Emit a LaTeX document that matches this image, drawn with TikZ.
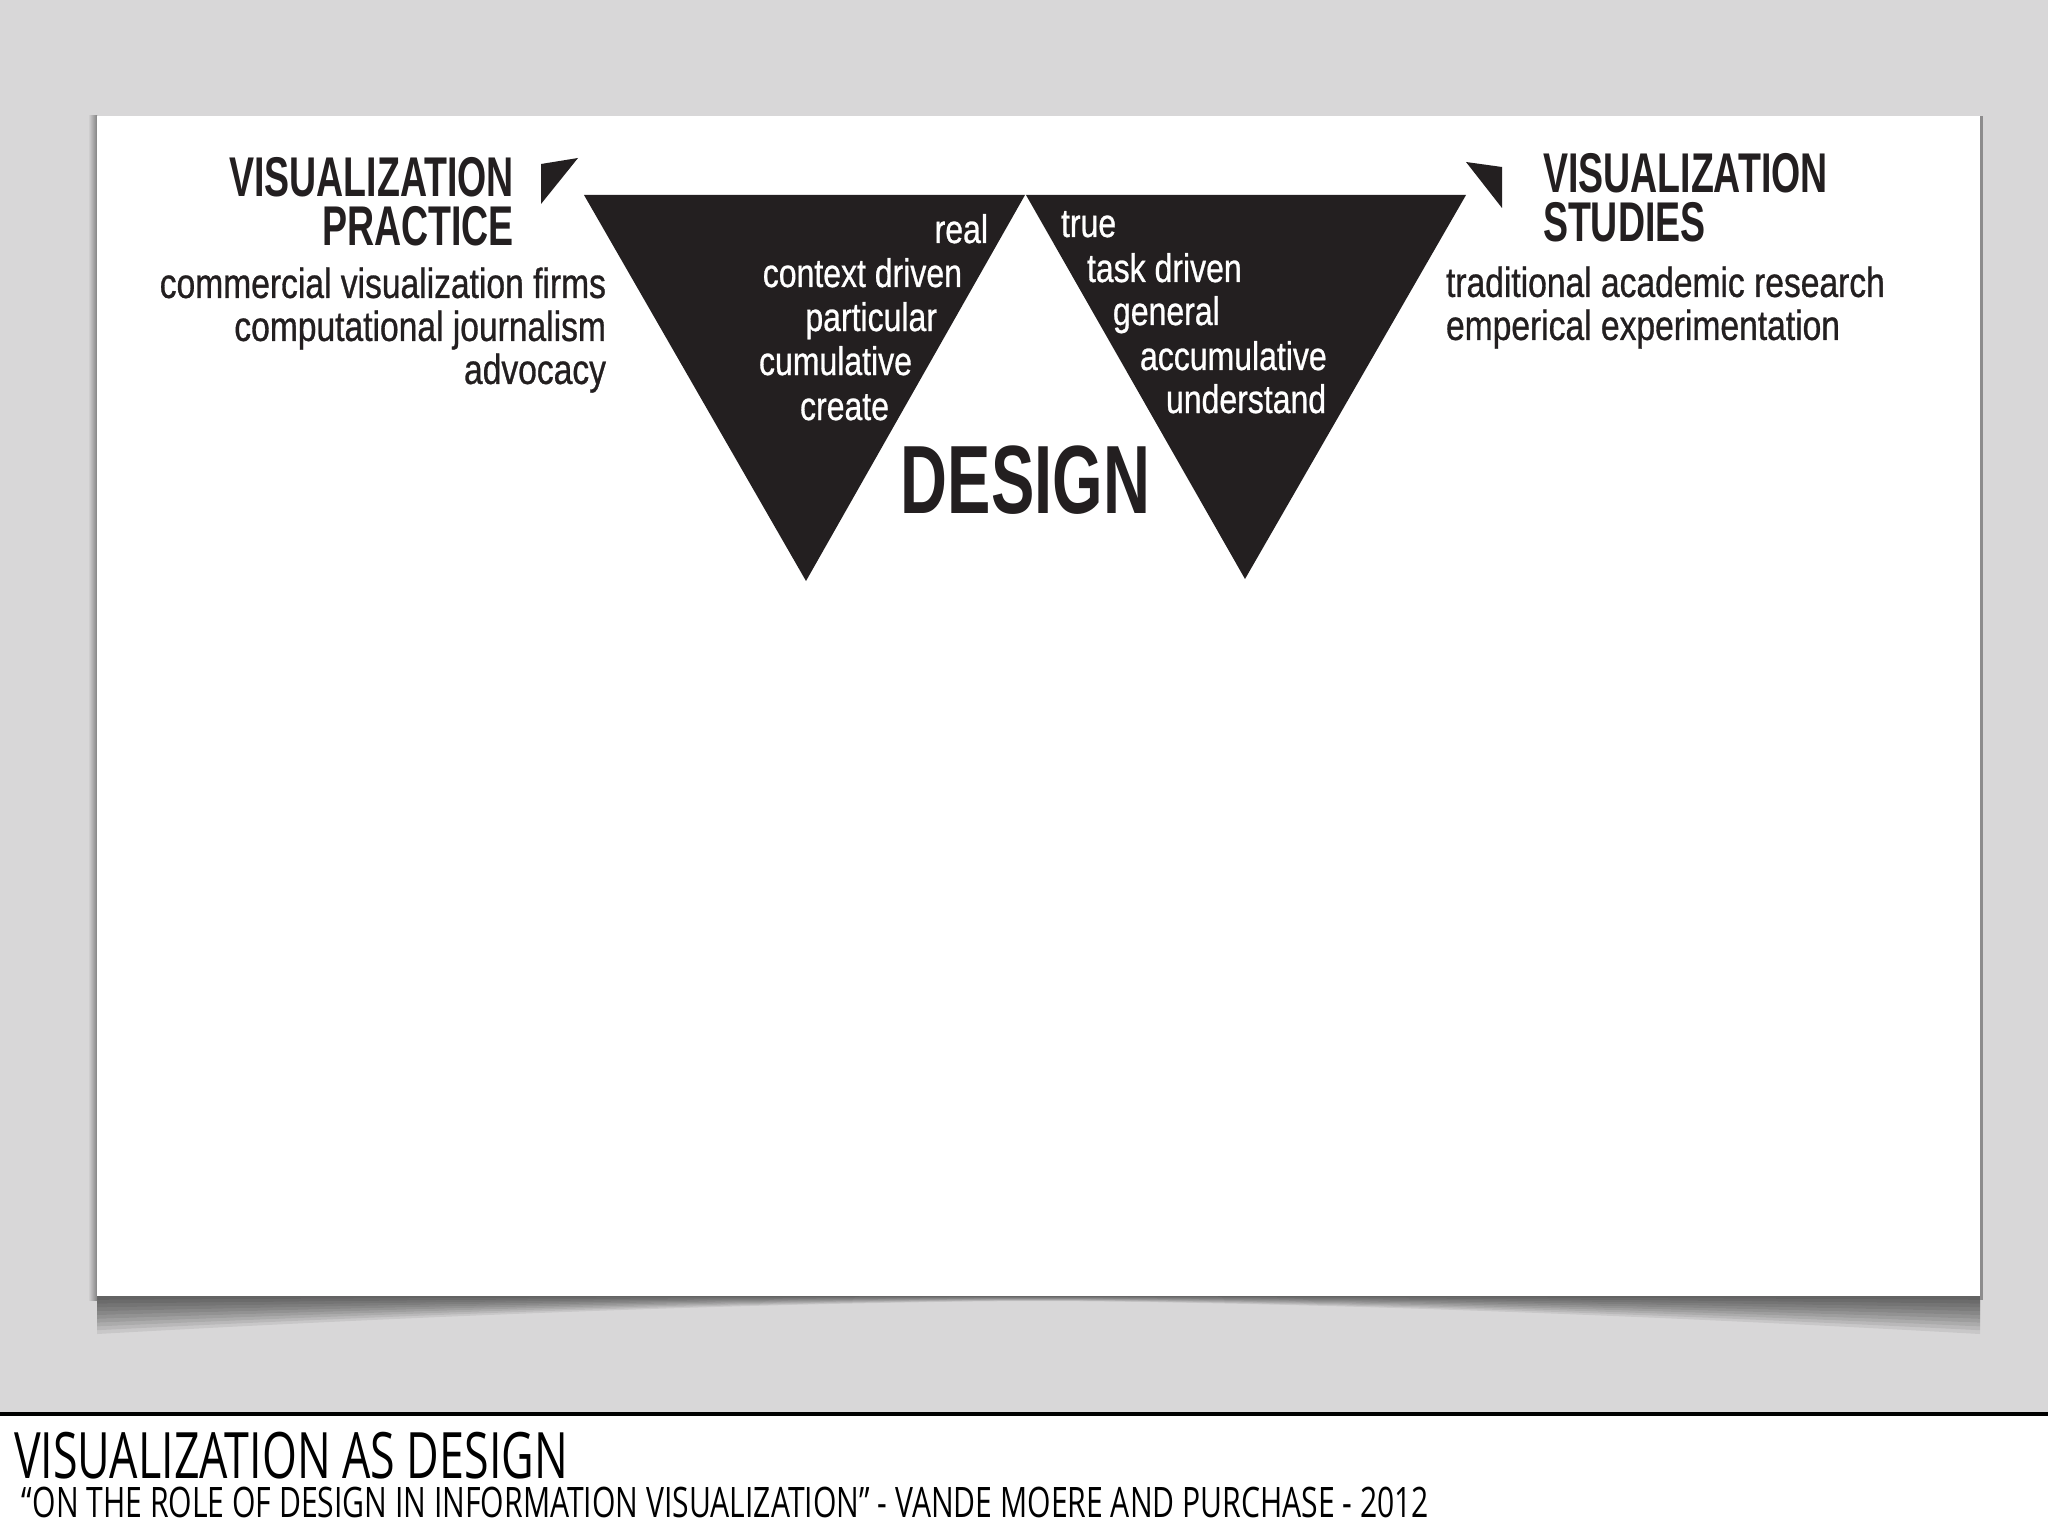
\documentclass[tikz,border=0pt]{standalone}
\usepackage{fontspec}
\usepackage{graphicx}
\newfontfamily\headfont[FakeStretch=0.67]{Liberation Sans}
\newfontfamily\bodyfont[FakeStretch=0.8,FakeBold=0.7]{Liberation Sans}
\newfontfamily\handfont{Open Sans}
\definecolor{bg}{RGB}{216,215,216}
\definecolor{ink}{RGB}{35,31,32}
\begin{document}
\begin{tikzpicture}[x=0.5pt,y=-0.5pt,
  every node/.style={inner sep=0pt, outer sep=0pt},
  headbase/.style={text=ink, font=\headfont\bfseries\fontsize{28}{24.5}\selectfont},
  headr/.style={headbase, anchor=north east, align=right},
  headl/.style={headbase, anchor=north west, align=left},
  bodyr/.style={anchor=north east, align=right, text=ink, font=\bodyfont\fontsize{21}{21.5}\selectfont},
  bodyl/.style={anchor=north west, align=left, text=ink, font=\bodyfont\fontsize{21}{21.5}\selectfont},
  trir/.style={anchor=base east, text=white, font=\bodyfont\fontsize{20}{24}\selectfont},
  tril/.style={anchor=base west, text=white, font=\bodyfont\fontsize{20}{24}\selectfont},
  bigword/.style={anchor=base, text=ink, font=\headfont\bfseries\fontsize{48.5}{50}\selectfont},
  tri/.style={fill=ink},
  foot/.style={anchor=north west, align=left, text=black, font=\fontsize{10}{19.5}\selectfont}
]
\useasboundingbox (0,0) rectangle (2048,1535);
% background
\fill[bg] (0,0) rectangle (2048,1412);
\fill[white] (0,1416) rectangle (2048,1535);
\fill[black] (0,1412) rectangle (2048,1416);
% slide shadow (curved)
\foreach \k in {1,...,10}{
  \fill[black, opacity=0.07]
    (97,1290) -- plot[domain=97:1980, samples=60]
      (\x, {1296 + \k/10*(5 + 33*abs((\x-1038.5)/941.5)^1.6)})
    -- (1980,1290) -- cycle;
}
\fill[left color=bg, right color=black!40!bg] (88,116) rectangle (97,1300);
\fill[black!35!bg] (1980,116) rectangle (1983,1300);
% slide
\fill[white] (97,116) rectangle (1980,1296);
% triangles
\fill[tri] (584,195) -- (1025,195) -- (806,581) -- cycle;
\fill[tri] (1026,195) -- (1466,195) -- (1245,579) -- cycle;
\fill[tri] (541,164) -- (578,158) -- (541,204) -- cycle;
\fill[tri] (1466,162) -- (1502,167) -- (1502,208) -- cycle;
% left heading
\node[headr] (vp) at (514,157) {VISUALIZATION\\PRACTICE};
\node[bodyr] (vpb) at (606,267.5) {commercial visualization firms\\computational journalism\\advocacy};
% right heading
\node[headl] (vs) at (1543,153) {VISUALIZATION\\STUDIES};
\node[bodyl] (vsb) at (1446,266.5) {traditional academic research\\emperical experimentation};
% left triangle words
\node[trir] (l1) at (988,243) {real};
\node[trir] (l2) at (962,287) {context driven};
\node[trir] (l3) at (937,331) {particular};
\node[trir] (l4) at (912,375) {cumulative};
\node[trir] (l5) at (889,420) {create};
% right triangle words
\node[tril] (r1) at (1061,237) {true};
\node[tril] (r2) at (1087,282) {task driven};
\node[tril] (r3) at (1113,325) {general};
\node[tril] (r4) at (1140,370) {accumulative};
\node[tril] (r5) at (1166,413) {understand};
% centre word
\node[bigword] (design) at (1025.5,513) {DESIGN};
% footer
\node[foot] (footer) at (14,1432) {\resizebox{277pt}{\height}{\handfont\fontsize{32}{34}\selectfont VISUALIZATION AS DESIGN}\\
\hspace*{4pt}\resizebox{703.5pt}{\height}{\handfont\fontsize{21}{24}\selectfont “ON THE ROLE OF DESIGN IN INFORMATION VISUALIZATION” - VANDE MOERE AND PURCHASE - 2012}};
\end{tikzpicture}
\end{document}
